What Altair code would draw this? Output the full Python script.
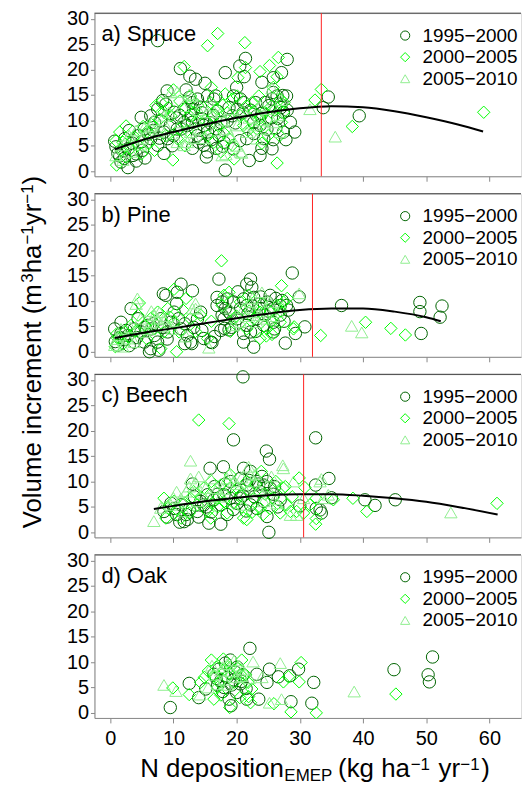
import altair as alt
import pandas as pd

FONT = "Liberation Sans"
PERIODS = ["1995−2000", "2000−2005", "2005−2010"]
COLORS = ["#006400", "#00ff00", "#90ee90"]
SHAPES = ["circle", "diamond", "triangle-up"]
BORDER = "#333333"

W, H = 429, 164
X_DOMAIN = [-2.5, 65]
Y_DOMAIN = [-1.0, 31.1]
X_TICKS = [0, 10, 20, 30, 40, 50, 60]
Y_TICKS = [0, 5, 10, 15, 20, 25, 30]

# ---------------- a) Spruce ----------------
spruce_1995 = [(7.5,25.7),(11.1,20.2),(12.6,18.7),(13.5,18.1),(15.0,17.3),(18.2,19.4),(20.5,20.7),(21.4,22.2),
    (21.2,18.6),(24.0,17.5),(25.8,18.4),(27.1,19.4),(28.0,22.0),(9.0,15.8),(27.3,14.9),(34.5,14.6),(33.7,12.5),
    (39.4,10.9),(29.2,7.7),(18.2,0.2),(15.2,2.8),(22.0,2.1),(23.7,3.1),(17.8,4.9),(19.5,4.4),(25.6,4.4),(25.8,6.2),
    (0.7,5.9),(2.8,0.7),(5.5,2.6),(4.1,2.0),(4.9,10.6),(8.3,13.9),(8.8,13.2),(7.5,12.2),(10.1,11.6),(11.7,12.2),
    (12.5,14.5),(13.0,13.5),(13.8,14.2),(14.3,12.6),(15.4,14.8),(16.7,14.8),(16.4,14.2),(14.6,10.3),(14.8,9.0),
    (15.4,7.7),(14.3,6.4),(14.8,5.1),(15.4,3.8),(13.8,7.0),(14.0,5.7),(13.5,8.3),(13.0,9.6),(9.1,6.4),(8.5,7.7),
    (10.6,8.3),(2.8,4.4),(3.6,3.1),(1.7,1.8),(0.9,4.8),(2.3,6.4),(5.4,8.3),(6.4,6.4),(7.5,5.1),(4.1,3.4),(5.1,4.1),
    (21.6,6.4),(22.7,7.4),(24.3,6.4),(24.8,8.3),(27.4,7.7),(28.5,9.6),(27.4,11.6),(27.9,14.8),(26.4,14.8),(26.9,13.2),
    (25.8,15.5),(25.6,14.2),(25.1,12.9),(19.5,14.8),(20.6,14.2),(21.1,13.5),(20.1,12.2),(19.3,10.9),(17.5,9.6),
    (18.5,9.9),(16.7,8.3),(23.2,10.9),(23.7,9.0),(22.7,9.6),(11.7,9.6),(11.2,8.3),(12.2,9.0),(7.0,9.6),(8.0,9.9),
    (6.4,10.9),(18.0,5.7),(3.0,8.0),(6.0,7.3),(1.5,3.0),(2.2,2.5),(10.5,10.5),(16.0,6.2),(17.0,11.8),(24.0,11.4),
    (26.5,10.4),(20.0,16.5),(12.0,16.0),(1.2,3.5),(2.0,4.0),(3.5,5.5),(4.5,7.0),(5.0,5.8),(6.8,8.0),(7.8,6.5),
    (9.5,9.0),(10.0,7.0),(11.0,11.0),(12.8,11.0),(13.2,12.2),(14.5,11.5),(15.8,9.5),(16.3,11.0),(17.2,7.0),
    (18.8,12.5),(19.8,9.5),(21.0,11.5),(22.2,12.0),(23.0,13.5),(24.5,13.5),(25.5,10.5),(26.2,8.5),(27.0,12.5),
    (28.0,12.0),(27.8,6.2),(24.0,4.5),(20.5,6.0),(16.8,4.5),(13.0,4.5),(9.8,5.0),(8.5,3.5)]
spruce_2000 = [(17.0,27.1),(15.4,24.7),(21.3,25.3),(11.7,20.6),(23.7,19.6),(25.2,20.8),(26.6,22.4),(26.4,18.6),
    (33.4,16.1),(32.4,14.0),(38.3,8.8),(59.1,11.6),(26.4,1.6),(9.9,2.2),(19.6,2.4),(20.2,18.4),(21.4,20.4),(25.8,16.5),
    (1.5,7.7),(2.5,8.9),(0.9,6.0),(2.0,5.7),(3.6,6.4),(4.4,5.1),(4.9,3.4),(7.2,12.9),(8.0,13.5),(8.5,11.6),(9.6,10.9),
    (7.0,4.1),(12.7,14.8),(13.3,11.6),(12.5,10.9),(15.9,13.5),(16.9,12.2),(16.4,10.9),(18.2,15.2),(20.1,14.8),
    (19.3,14.2),(21.6,12.9),(22.4,13.5),(22.7,11.6),(24.3,11.6),(24.8,10.0),(23.2,8.3),(27.1,9.6),(27.4,11.6),
    (26.9,14.2),(19.3,5.1),(17.5,3.8),(18.8,6.4),(8.8,7.0),(10.9,8.3),(10.6,6.4),(15.4,7.0),(16.4,5.7),(21.1,9.0),
    (22.2,10.3),(1.0,1.2),(2.5,2.8),(5.8,7.8),(6.5,9.2),(11.8,5.0),(14.0,9.8),(17.8,13.0),(23.5,14.8),(26.0,12.0),
    (3.2,4.5),(12.0,12.5),(24.0,5.5),(26.8,7.0),(10.0,16.0),(16.0,16.5),(1.8,4.2),(3.8,6.8),(5.2,8.8),(6.0,5.5),
    (7.8,10.2),(9.2,12.5),(11.0,13.8),(13.8,13.0),(15.0,10.0),(17.0,9.0),(18.5,11.5),(20.5,11.0),(21.8,8.0),
    (23.8,10.5),(25.5,12.8),(27.5,13.5),(25.0,7.0),(18.0,7.5),(12.2,8.0)]
spruce_2005 = [(31.6,12.2),(35.6,6.8),(18.3,3.3),(20.8,3.6),(10.6,15.6),(12.5,15.1),(25.6,16.3),(9.6,15.5),
    (13.0,14.8),(15.9,12.9),(17.7,3.1),(20.6,3.8),(11.2,9.6),(8.0,8.3),(5.4,8.6),(4.1,8.0),(1.7,5.1),(0.9,3.1),
    (3.3,3.8),(12.2,5.7),(12.7,7.7),(14.3,8.3),(18.5,8.3),(20.1,9.0),(21.6,7.7),(23.7,12.9),(24.8,12.2),(24.8,8.3),
    (25.8,9.6),(26.9,7.7),(23.2,6.4),(17.5,11.6),(19.3,12.2),(6.4,8.9),(7.5,7.7),(10.6,5.7),(11.7,5.1),(15.4,11.6),
    (8.5,10.9),(9.3,11.6),(5.1,6.4),(3.0,7.0),(2.0,2.2),(22.0,10.5),(14.0,12.0),(19.0,7.0),(13.5,10.0),(2.5,6.0),
    (4.8,5.2),(6.8,10.0),(9.0,8.5),(11.5,12.8),(13.2,6.5),(16.5,8.0),(18.0,10.0),(21.0,12.0),(22.8,9.0),(24.0,10.0),
    (26.5,11.0),(27.0,14.0),(20.0,5.0),(15.0,6.5)]
spruce_curve_x = [0.7, 5, 10, 15, 20, 25, 30, 35, 40, 45, 50, 55, 59]
spruce_curve_y = [4.3, 6.1, 7.7, 9.2, 10.5, 11.6, 12.4, 12.8, 12.6, 11.8, 10.6, 9.2, 7.8]

# ---------------- b) Pine ----------------
pine_1995 = [(17.2,14.3),(28.8,15.5),(11.2,13.3),(8.4,11.4),(8.8,11.1),(10.6,11.7),(22.2,14.3),(22.4,12.7),
    (21.6,13.3),(16.9,10.7),(17.7,9.8),(18.5,10.4),(18.8,7.8),(18.0,6.5),(17.5,4.2),(21.1,1.9),(22.7,0.9),(25.8,3.9),
    (27.7,1.7),(30.8,4.9),(29.9,10.8),(29.3,3.6),(36.6,9.1),(49.0,9.7),(49.0,7.9),(49.2,3.6),(52.5,9.0),(52.2,6.8),
    (21.1,3.6),(18.1,4.6),(18.8,4.3),(6.2,0.0),(7.7,0.3),(11.8,1.6),(12.9,1.6),(14.8,2.6),(16.1,1.8),
    (0.7,4.5),(1.7,5.8),(2.8,3.2),(3.8,1.9),(1.2,1.3),(4.9,3.9),(5.9,5.2),(7.0,3.2),(5.4,1.9),(7.5,1.9),(9.1,3.9),
    (9.6,5.8),(10.1,7.8),(8.0,6.5),(11.2,4.5),(12.2,3.2),(12.7,1.9),(14.3,7.8),(13.8,6.5),(15.9,1.9),(6.4,0.6),
    (4.4,6.5),(3.3,8.5),(3.8,4.5),(1.7,3.6),(19.5,9.8),(20.6,8.5),(20.1,6.5),(21.6,5.2),(22.2,3.9),(23.2,6.5),
    (23.7,8.5),(24.8,9.8),(25.3,11.1),(25.8,8.5),(26.9,7.2),(26.9,9.1),(27.2,10.1),(27.9,9.1),(24.3,5.2),(25.8,5.8),
    (21.1,10.4),(22.7,10.7),(19.0,7.5),(18.2,8.5),(17.7,7.2),(16.9,9.1),(21.6,9.1),(23.5,9.4),(2.2,2.4),(6.5,4.5),
    (10.5,9.5),(13.0,12.0),(0.8,2.0),(1.5,2.8),(2.5,4.2),(3.0,1.2),(4.2,2.8),(5.5,4.8),(6.8,5.5),(8.2,4.8),(9.0,2.5),
    (10.8,6.5),(11.8,5.5),(13.2,4.8),(14.5,4.2),(16.5,3.0),(19.2,4.8),(20.2,11.8),(21.8,7.5),(22.5,9.0),(23.8,10.8),
    (24.5,7.2),(25.0,8.0),(26.2,10.5),(27.5,6.0),(26.0,4.5),(23.0,4.0),(28.2,8.2)]
pine_2000 = [(17.6,17.9),(27.1,13.0),(33.3,3.2),(40.4,5.8),(44.4,4.6),(46.7,3.3),(10.5,0.0),(24.7,3.1),(25.6,3.4),
    (29.1,4.9),(10.1,12.3),(4.6,9.6),(1.2,2.6),(2.3,3.9),(3.3,5.2),(4.4,7.2),(5.4,5.2),(6.4,6.5),(7.5,7.8),(8.5,3.9),
    (10.1,5.8),(10.9,3.9),(8.0,0.6),(9.1,8.5),(12.7,6.5),(14.3,7.2),(15.4,2.6),(18.8,11.7),(20.6,9.8),(21.9,11.1),
    (23.7,7.8),(25.3,7.8),(26.4,9.1),(27.4,9.8),(22.7,6.5),(19.5,6.5),(21.6,4.5),(23.7,2.6),(24.8,4.5),(26.9,5.8),
    (29.0,4.5),(18.0,11.1),(17.7,9.1),(0.8,1.0),(2.0,1.5),(13.5,4.0),(12.0,10.5),(16.0,6.0),(1.0,3.5),(3.0,3.0),
    (4.0,4.0),(5.8,2.5),(7.0,4.5),(9.5,6.8),(11.5,8.2),(20.0,7.0),(22.0,8.0),(24.0,9.5),(25.5,6.0),(27.0,8.0),
    (28.0,10.5),(19.0,4.0)]
pine_2005 = [(29.9,11.5),(38.2,5.1),(39.8,3.8),(15.6,0.8),(13.5,9.5),(13.0,8.5),(4.3,10.5),(4.1,9.4),(1.7,4.5),
    (2.8,2.6),(0.7,1.3),(3.8,1.9),(6.4,5.8),(7.0,7.2),(7.5,6.5),(7.8,7.8),(8.5,6.5),(5.4,3.9),(13.5,8.5),(9.9,4.5),
    (24.0,11.7),(21.1,8.5),(22.7,7.8),(23.2,5.8),(24.8,6.5),(20.6,5.8),(25.3,9.8),(22.2,9.8),(26.4,7.8),(19.5,5.2),
    (1.0,2.5),(2.0,1.0),(6.0,4.5),(12.0,3.0),(1.5,3.2),(3.2,4.8),(4.8,6.5),(6.5,8.0),(8.0,5.0),(9.0,7.0),(10.5,6.0),
    (21.5,7.0),(23.5,7.2),(24.5,8.5),(25.8,7.0),(27.2,8.8),(19.0,8.5),(22.5,10.5)]
pine_curve_x = [0.7, 5, 10, 15, 20, 25, 30, 35, 40, 45, 50, 52.3]
pine_curve_y = [2.7, 3.7, 4.6, 5.6, 6.6, 7.5, 8.2, 8.5, 8.5, 7.9, 6.8, 6.0]

# ---------------- c) Beech ----------------
beech_1995 = [(21.0,30.6),(19.5,18.2),(32.5,18.6),(24.7,16.0),(25.2,14.4),(15.8,12.6),(17.9,12.9),(34.6,10.6),
    (32.5,9.3),(35.0,6.8),(33.2,4.4),(33.4,3.8),(32.6,4.7),(25.1,0.0),(15.6,1.8),(17.5,1.6),(24.8,3.1),(8.5,4.1),
    (10.1,4.7),(11.7,2.1),(12.2,2.5),(13.8,4.1),(14.8,5.4),(19.0,10.0),(20.6,10.6),(21.6,9.3),(23.2,10.0),(23.7,8.0),
    (24.3,9.3),(24.8,10.0),(25.3,8.7),(22.2,12.0),(21.1,12.6),(26.9,6.4),(30.0,5.2),(45.1,6.4),(40.3,6.4),(41.9,5.3),
    (18.0,7.4),(19.0,6.7),(20.1,5.7),(16.4,6.4),(17.5,5.4),(15.4,7.4),(13.3,7.0),(14.3,6.1),(11.2,5.4),(9.6,5.7),
    (20.6,6.7),(22.2,5.4),(23.2,4.7),(24.3,6.1),(12.0,3.5),(11.0,2.0),(26.0,9.0),(16.5,9.0),(18.5,3.5),(21.5,4.2),
    (13.0,9.5),(20.0,8.0),(9.0,3.0),(10.5,3.5),(12.5,4.5),(14.0,3.0),(15.2,5.0),(16.0,4.0),(17.0,7.5),(18.2,9.5),
    (19.5,4.5),(21.0,7.2),(22.8,7.0),(23.5,9.5),(25.8,7.5),(26.5,5.0),(24.0,11.0),(22.0,10.2)]
beech_2000 = [(14.0,22.1),(18.8,21.4),(29.9,10.7),(27.7,9.0),(32.5,1.6),(32.6,2.7),(38.4,6.7),(40.6,4.1),(61.2,5.7),
    (23.9,12.0),(8.5,6.7),(8.8,2.8),(11.2,2.8),(13.8,5.4),(15.4,4.1),(16.9,6.7),(17.5,9.3),(19.0,11.3),(20.1,8.7),
    (20.6,7.4),(21.6,10.0),(22.7,6.7),(23.7,4.7),(25.3,4.7),(27.9,5.4),(28.5,4.1),(29.5,4.1),(30.6,3.8),(31.6,5.4),
    (32.6,6.7),(35.3,6.4),(21.1,2.8),(18.5,3.8),(15.9,2.8),(12.7,6.7),(14.8,8.7),(10.1,6.1),(27.4,8.7),(21.6,2.5),
    (26.9,3.8),(10.5,4.5),(12.5,3.8),(17.0,5.0),(19.5,5.8),(22.0,8.2),(24.5,7.5),(16.0,10.0),(9.2,4.8),(11.8,5.8),
    (13.2,8.0),(14.5,6.8),(16.2,5.8),(18.0,6.0),(19.0,8.8),(20.8,5.0),(22.5,4.0),(23.0,9.5),(24.2,3.5),(25.8,6.8),
    (26.2,10.0),(28.8,7.0),(30.8,8.8)]
beech_2005 = [(12.7,14.1),(27.3,13.2),(27.4,12.6),(53.9,3.9),(6.9,2.2),(33.4,10.5),(34.5,7.4),(12.7,10.6),(12.5,9.0),
    (15.9,10.6),(16.9,8.7),(18.5,10.6),(19.5,10.0),(21.9,12.9),(22.2,11.3),(22.7,10.0),(24.3,6.1),(21.1,5.4),
    (13.8,6.1),(11.2,6.7),(9.6,5.4),(11.7,4.1),(29.0,10.0),(30.6,6.7),(33.7,6.7),(28.5,3.4),(29.5,3.4),(26.4,5.7),
    (33.2,10.0),(15.1,8.7),(14.0,11.0),(17.5,7.0),(20.0,9.5),(23.5,8.5),(10.5,8.0),(8.0,4.8),(10.0,6.8),(12.0,8.0),
    (13.5,9.8),(15.5,7.0),(17.8,8.5),(18.8,11.5),(20.8,10.8),(21.5,8.0),(23.0,11.5),(24.8,9.0),(25.5,11.0),(26.0,6.5)]
beech_curve_x = [6.9, 10, 15, 20, 25, 30, 35, 40, 45, 50, 55, 61.3]
beech_curve_y = [4.6, 5.2, 6.1, 6.8, 7.3, 7.5, 7.5, 7.2, 6.7, 6.0, 5.0, 3.5]

# ---------------- d) Oak ----------------
oak_1995 = [(9.5,1.05),(22.1,12.7),(12.5,5.8),(14.0,3.0),(19.0,10.4),(25.2,8.6),(23.2,7.6),(24.8,6.0),(26.6,7.1),
    (29.8,8.6),(28.4,7.3),(28.6,2.2),(32.2,6.0),(31.9,1.9),(44.9,8.5),(50.3,7.5),(50.5,6.1),(51.0,11.0),(23.5,2.7),
    (21.6,2.7),(18.8,2.7),(19.1,1.4),(15.1,4.7),(16.4,7.6),(17.5,6.3),(20.1,9.0),(20.6,5.7),(18.0,5.0),(17.2,8.6),
    (18.5,7.0),(19.5,6.5),(21.0,7.5),(17.0,5.5),(20.0,4.0),(16.8,6.8),(18.2,9.8),(19.8,8.0),(20.8,6.2),(17.8,4.2),
    (19.2,5.5),(21.5,4.8)]
oak_2000 = [(16.0,10.4),(17.9,10.6),(20.8,10.4),(9.9,4.9),(12.5,3.6),(16.4,2.7),(18.9,1.05),(22.2,2.0),(21.9,3.2),
    (22.4,4.7),(25.9,1.8),(27.4,6.1),(28.2,7.1),(29.9,6.1),(30.2,9.9),(28.6,0.2),(32.6,0.0),(45.2,3.7),(14.3,6.0),
    (14.9,7.0),(16.4,7.3),(19.6,6.0),(20.6,7.6),(21.4,7.5),(17.0,5.0),(18.0,8.5),(19.0,9.0),(17.5,3.5),(20.5,3.0),
    (15.5,8.2),(17.2,6.0),(18.8,7.8),(20.2,8.8),(21.8,6.0),(16.8,9.0)]
oak_2005 = [(8.5,5.5),(10.4,4.3),(14.2,3.6),(22.6,10.1),(26.9,9.8),(27.1,2.7),(25.2,2.0),(38.6,4.2),(16.1,9.3),
    (17.5,8.3),(18.5,9.6),(19.9,7.0),(20.4,9.3),(16.9,5.6),(19.6,10.3),(18.0,6.5),(21.0,8.5),(15.5,5.0),(24.0,7.0),
    (16.5,7.5),(17.8,9.0),(19.2,8.2),(20.8,7.2),(18.5,5.5),(22.0,6.8)]

n_threshold = {"a": 33.4, "b": 32.0, "c": 30.6}


def text_piece(txt, x, y, size, angle=0):
    return alt.Chart(pd.DataFrame({"t": [txt]})).mark_text(
        align="left", baseline="alphabetic", font=FONT, fontSize=size, color="black", angle=angle
    ).encode(x=alt.value(x), y=alt.value(y), text="t:N")


def panel(label, series, curve=None, nline=None, bottom_labels=False, extra=None):
    rows = []
    for period, pts in zip(PERIODS, series):
        for px, py in pts:
            rows.append({"x": px, "y": py, "period": period})
    df = pd.DataFrame(rows)
    xscale = alt.Scale(domain=X_DOMAIN, nice=False, zero=False)
    yscale = alt.Scale(domain=Y_DOMAIN, nice=False, zero=False)
    xaxis = alt.Axis(values=X_TICKS, labels=bottom_labels, title=None, tickSize=5, grid=False,
                     labelFontSize=20, labelPadding=6, labelFlush=False, labelOverlap=False)
    yaxis = alt.Axis(values=Y_TICKS, title=None, tickSize=4, grid=False, labelFontSize=20,
                     labelPadding=2, labelFlush=False, labelOverlap=False)
    X = lambda: alt.X("x:Q", scale=xscale, axis=xaxis)
    Y = lambda: alt.Y("y:Q", scale=yscale, axis=yaxis)
    leg = alt.Legend(title=None, orient="none", legendX=303, legendY=13, labelFontSize=19,
                     labelFont=FONT, symbolSize=85, symbolStrokeWidth=1, rowPadding=1.7,
                     labelOffset=8, padding=0)
    pts = alt.Chart(df).mark_point(filled=False, strokeWidth=1, size=155, opacity=1).encode(
        x=X(), y=Y(),
        color=alt.Color("period:N", scale=alt.Scale(domain=PERIODS, range=COLORS), legend=leg),
        shape=alt.Shape("period:N", scale=alt.Scale(domain=PERIODS, range=SHAPES), legend=leg),
    )
    border = alt.Chart(pd.DataFrame({"a": [0]})).mark_rule(color=BORDER, strokeWidth=1).encode(
        x=alt.value(0), x2=alt.value(W), y=alt.value(0))
    layers = [border, pts]
    if curve is not None:
        cdf = pd.DataFrame({"x": curve[0], "y": curve[1]})
        layers.append(alt.Chart(cdf).mark_line(color="black", strokeWidth=2, interpolate="monotone")
                      .encode(x=X(), y=Y()))
    if nline is not None:
        layers.append(alt.Chart(pd.DataFrame({"x": [nline]})).mark_rule(color="#ff2020", strokeWidth=1)
                      .encode(x=X()))
    layers.append(text_piece(label, 7, 28, 22))
    if extra:
        layers.extend(extra)
    return alt.layer(*layers).properties(width=W, height=H)


# y-axis title pieces (rotated), placed relative to panel b
ytitle = [
    text_piece("Volume increment (m", -54, 336.5, 26, 270),
    text_piece("3", -61.5, 89.5, 17, 270),
    text_piece("ha", -54, 80.0, 26, 270),
    text_piece("−1", -61.5, 51.1, 17, 270),
    text_piece("yr", -54, 31.7, 26, 270),
    text_piece("−1", -61.5, 10.0, 17, 270),
    text_piece(")", -54, -9.4, 26, 270),
]
# x-axis title pieces, placed relative to panel d
xtitle = [
    text_piece("N deposition", 46, 223.5, 26),
    text_piece("EMEP", 191, 227.5, 17),
    text_piece("(kg ha", 245, 223.5, 26),
    text_piece("−1", 318, 216, 17),
    text_piece("yr", 346, 223.5, 26),
    text_piece("−1", 368, 216, 17),
    text_piece(")", 389, 223.5, 26),
]

pa = panel("a) Spruce", [spruce_1995, spruce_2000, spruce_2005], (spruce_curve_x, spruce_curve_y), n_threshold["a"])
pb = panel("b) Pine", [pine_1995, pine_2000, pine_2005], (pine_curve_x, pine_curve_y), n_threshold["b"], extra=ytitle)
pc = panel("c) Beech", [beech_1995, beech_2000, beech_2005], (beech_curve_x, beech_curve_y), n_threshold["c"])
pd_ = panel("d) Oak", [oak_1995, oak_2000, oak_2005], bottom_labels=True, extra=xtitle)

chart = alt.vconcat(pa, pb, pc, pd_, spacing=17.6, bounds="flush").resolve_scale(
    color="independent", shape="independent"
).resolve_legend(color="independent", shape="independent").properties(
    padding={"left": 18, "top": 6, "right": 0, "bottom": 4}
).configure_view(stroke=None).configure_axis(
    labelFont=FONT, labelColor="black", domainColor=BORDER, domainWidth=1,
    tickColor=BORDER, tickWidth=1
).configure_legend(
    labelFont=FONT, labelFontSize=19, labelColor="black", symbolSize=85, symbolStrokeWidth=1,
    rowPadding=1.7, labelOffset=8, padding=0
).configure(background="white")

chart.save("out.html", embed_options={"renderer": "svg", "actions": False})
